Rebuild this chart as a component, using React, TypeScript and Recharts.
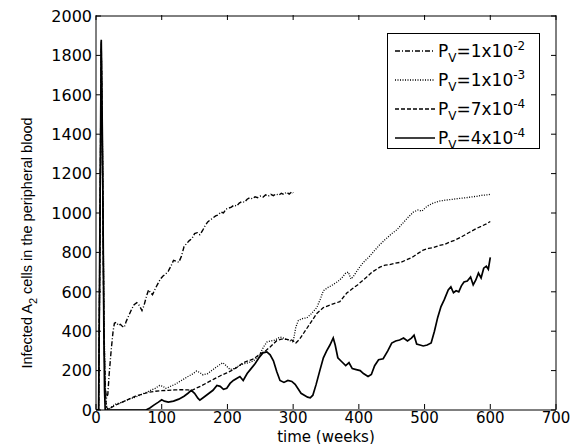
import React from "react";
import {
  LineChart,
  Line,
  XAxis,
  YAxis,
  ReferenceArea,
} from "recharts";

// weeks / infected cells
const pv1e2: [number, number][] = [
  [0, 0], [4, 0], [6, 900], [8, 1870], [10, 1200], [12, 400], [14, 120], [16, 60],
  [18, 80], [20, 180], [23, 300], [26, 400], [28, 440], [31, 445], [34, 430], [37, 435],
  [40, 425], [43, 420], [46, 450], [50, 480], [54, 510], [58, 535], [62, 545], [66, 530],
  [70, 505], [73, 530], [77, 580], [80, 610], [83, 595], [86, 585], [90, 615], [94, 640],
  [98, 665], [102, 680], [106, 690], [110, 705], [114, 730], [118, 760], [122, 755],
  [126, 750], [130, 780], [134, 830], [138, 845], [142, 860], [146, 870], [150, 895],
  [154, 900], [158, 890], [162, 910], [166, 935], [170, 955], [174, 965], [178, 975],
  [182, 985], [186, 990], [190, 1005], [194, 1000], [198, 1020], [202, 1025], [206, 1030],
  [210, 1040], [214, 1035], [218, 1050], [222, 1058], [226, 1055], [230, 1070], [234, 1078],
  [238, 1072], [242, 1082], [246, 1078], [250, 1086], [254, 1080], [258, 1092], [262, 1085],
  [266, 1095], [270, 1088], [274, 1097], [278, 1090], [282, 1100], [286, 1094], [290, 1106],
  [294, 1096], [298, 1108], [300, 1102],
];

const pv1e3: [number, number][] = [
  [0, 0], [4, 0], [6, 800], [8, 1850], [10, 1300], [12, 500], [14, 100], [16, 20],
  [18, 5], [20, 5], [25, 20], [30, 30], [40, 40], [50, 55], [60, 65], [70, 80], [80, 95],
  [90, 110], [97, 125], [102, 120], [106, 110], [110, 115], [120, 130], [130, 150],
  [140, 170], [148, 185], [153, 198], [158, 190], [163, 178], [170, 185], [178, 205],
  [186, 225], [193, 240], [198, 225], [204, 205], [210, 210], [218, 225], [225, 235],
  [232, 240], [240, 250], [248, 275], [255, 320], [260, 345], [265, 350], [272, 355],
  [280, 370], [286, 365], [293, 355], [300, 345], [304, 420], [308, 455], [315, 465],
  [321, 468], [328, 490], [336, 520], [341, 560], [346, 605], [352, 620], [360, 635],
  [367, 650], [374, 670], [380, 695], [384, 700], [388, 665], [392, 680], [400, 720],
  [407, 750], [415, 775], [424, 810], [432, 840], [440, 865], [450, 895], [458, 915],
  [466, 945], [474, 975], [483, 1005], [490, 1015], [496, 1010], [504, 1035], [513, 1050],
  [522, 1060], [531, 1065], [539, 1068], [548, 1072], [556, 1075], [564, 1078], [572, 1082],
  [580, 1085], [588, 1090], [596, 1092], [600, 1095],
];

const pv7e4: [number, number][] = [
  [0, 0], [4, 0], [6, 850], [8, 1860], [10, 1250], [12, 450], [14, 80], [16, 15],
  [18, 5], [22, 10], [30, 25], [40, 40], [50, 55], [60, 70], [70, 80], [80, 90], [90, 95],
  [100, 98], [110, 100], [120, 102], [130, 103], [140, 102], [146, 100], [152, 110],
  [160, 122], [170, 140], [180, 158], [190, 175], [199, 188], [206, 200], [214, 215],
  [224, 240], [232, 250], [240, 260], [250, 285], [258, 300], [265, 320], [275, 352],
  [282, 360], [290, 358], [298, 355], [304, 340], [310, 360], [318, 400], [326, 440],
  [336, 490], [346, 520], [354, 530], [362, 540], [371, 550], [377, 575], [382, 595],
  [390, 615], [398, 635], [405, 655], [412, 675], [420, 700], [432, 725], [440, 735],
  [447, 738], [455, 745], [464, 750], [473, 763], [481, 775], [490, 795], [498, 812],
  [506, 820], [514, 825], [522, 835], [530, 840], [538, 852], [546, 862], [554, 875],
  [562, 890], [570, 905], [578, 920], [586, 932], [594, 945], [600, 957],
];

const pv4e4: [number, number][] = [
  [0, 0], [4, 0], [6, 950], [8, 1880], [10, 1300], [12, 400], [13, 100], [14, 0],
  [76, 0], [82, 10], [88, 25], [95, 40], [100, 52], [104, 45], [110, 40], [118, 45],
  [126, 55], [134, 70], [140, 85], [145, 100], [150, 85], [155, 60], [158, 50], [164, 65],
  [170, 80], [178, 100], [184, 125], [189, 120], [194, 105], [199, 110], [204, 135],
  [209, 150], [214, 160], [219, 170], [224, 150], [230, 185], [236, 210], [242, 235],
  [248, 265], [254, 290], [260, 295], [265, 280], [270, 250], [275, 195], [280, 150],
  [286, 140], [292, 150], [298, 145], [303, 130], [308, 105], [312, 85], [317, 75],
  [322, 65], [326, 62], [330, 75], [335, 130], [341, 205], [346, 265], [351, 300],
  [356, 330], [361, 366], [364, 330], [368, 265], [374, 245], [380, 225], [385, 240],
  [390, 210], [396, 205], [402, 200], [407, 185], [414, 170], [419, 180], [424, 225],
  [430, 255], [437, 260], [444, 300], [450, 340], [456, 350], [462, 355], [468, 365],
  [474, 350], [480, 365], [484, 380], [488, 335], [493, 330], [498, 325], [504, 330],
  [510, 340], [515, 400], [520, 470], [525, 525], [530, 560], [536, 610], [540, 625],
  [544, 595], [548, 605], [552, 600], [556, 630], [560, 650], [565, 655], [570, 675],
  [574, 635], [578, 660], [582, 695], [586, 670], [590, 720], [594, 730], [597, 715],
  [600, 775],
];

const xTicks = [0, 100, 200, 300, 400, 500, 600, 700];
const yTicks = [0, 200, 400, 600, 800, 1000, 1200, 1400, 1600, 1800, 2000];

const series = [
  { name: "1x10", exp: "-2", data: pv1e2, dash: "5 2 1 2", width: 1.4 },
  { name: "1x10", exp: "-3", data: pv1e3, dash: "1 1.5", width: 1.3 },
  { name: "7x10", exp: "-4", data: pv7e4, dash: "4 2", width: 1.3 },
  { name: "4x10", exp: "-4", data: pv4e4, dash: undefined, width: 1.7 },
];

const W = 582;
const H = 444;
// axes get 1px so recharts still draws them
const M = { top: 16, right: 26, bottom: 33, left: 95 };
const PW = W - M.left - 1 - M.right;
const PH = H - M.top - M.bottom - 1;
const FONT = "'DejaVu Sans', sans-serif";

const toRows = (d: [number, number][]) => d.map(([t, v]) => ({ t, v }));

function XTick({ x, y, payload }: any) {
  const y0 = y - 1;
  return (
    <g>
      <line x1={x} x2={x} y1={y0} y2={y0 - 5} stroke="#000" />
      <line x1={x} x2={x} y1={y0 - PH} y2={y0 - PH + 5} stroke="#000" />
      <text x={x} y={y0 + 13.5} textAnchor="middle" fontSize={15} fontFamily={FONT} fill="#000">
        {payload.value}
      </text>
    </g>
  );
}

function YTick({ x, y, payload }: any) {
  return (
    <g>
      <line x1={x} x2={x + 5} y1={y} y2={y} stroke="#000" />
      <line x1={x + PW} x2={x + PW - 5} y1={y} y2={y} stroke="#000" />
      <text x={x - 4} y={y} dy="0.36em" textAnchor="end" fontSize={16} fontFamily={FONT} fill="#000">
        {payload.value}
      </text>
    </g>
  );
}

function LegendBox() {
  return (
    <div
      style={{
        position: "absolute",
        left: 387,
        top: 33,
        width: 151,
        height: 114,
        border: "1px solid #000",
        background: "#fff",
        fontFamily: FONT,
        fontSize: 17,
        color: "#000",
      }}
    >
      {series.map((s, i) => (
        <div
          key={i}
          style={{ position: "absolute", left: 7, top: 4 + i * 29, height: 26, display: "flex", alignItems: "center" }}
        >
          <svg width={40} height={10} style={{ marginRight: 3 }}>
            <line x1={0} x2={40} y1={5} y2={5} stroke="#000" strokeWidth={s.width} strokeDasharray={s.dash} />
          </svg>
          <span style={{ whiteSpace: "nowrap" }}>
            P
            <span style={{ fontSize: 12, position: "relative", top: 5 }}>V</span>
            ={s.name}
            <span style={{ fontSize: 12, position: "relative", top: -7 }}>{s.exp}</span>
          </span>
        </div>
      ))}
    </div>
  );
}

export default function App() {
  return (
    <div style={{ position: "absolute", left: 0, top: 0, width: W, height: H, background: "#fff" }}>
      <LineChart width={W} height={H} margin={M}>
        <XAxis
          type="number"
          dataKey="t"
          domain={[0, 700]}
          ticks={xTicks}
          interval={0}
          height={1}
          tickSize={0}
          tickMargin={0}
          tickLine={false}
          axisLine={false}
          tick={<XTick />}
          allowDataOverflow
          label={{
            content: ({ viewBox }: any) => (
              <text
                x={viewBox.x + viewBox.width / 2}
                y={viewBox.y + 31.5}
                textAnchor="middle"
                fontSize={15}
                fontFamily={FONT}
                fill="#000"
              >
                time (weeks)
              </text>
            ),
          }}
        />
        <YAxis
          type="number"
          domain={[0, 2000]}
          ticks={yTicks}
          interval={0}
          width={1}
          tickSize={0}
          tickMargin={0}
          tickLine={false}
          axisLine={false}
          tick={<YTick />}
          allowDataOverflow
          label={{
            content: () => (
              <text
                transform="translate(32, 243) rotate(-90)"
                textAnchor="middle"
                fontSize={14.5}
                fontFamily="'Liberation Sans', Arial, sans-serif"
                fill="#000"
              >
                Infected A
                <tspan fontSize={11} dy={5}>2</tspan>
                <tspan dy={-5}>{"  cells in the peripheral blood"}</tspan>
              </text>
            ),
          }}
        />
        <ReferenceArea x1={0} x2={700} y1={0} y2={2000} fill="none" stroke="#000" strokeWidth={1} />
        {series.map((s, i) => (
          <Line
            key={i}
            data={toRows(s.data)}
            dataKey="v"
            type="linear"
            stroke="#000"
            strokeWidth={s.width}
            strokeDasharray={s.dash}
            dot={false}
            activeDot={false}
            isAnimationActive={false}
          />
        ))}
      </LineChart>
      <LegendBox />
    </div>
  );
}
